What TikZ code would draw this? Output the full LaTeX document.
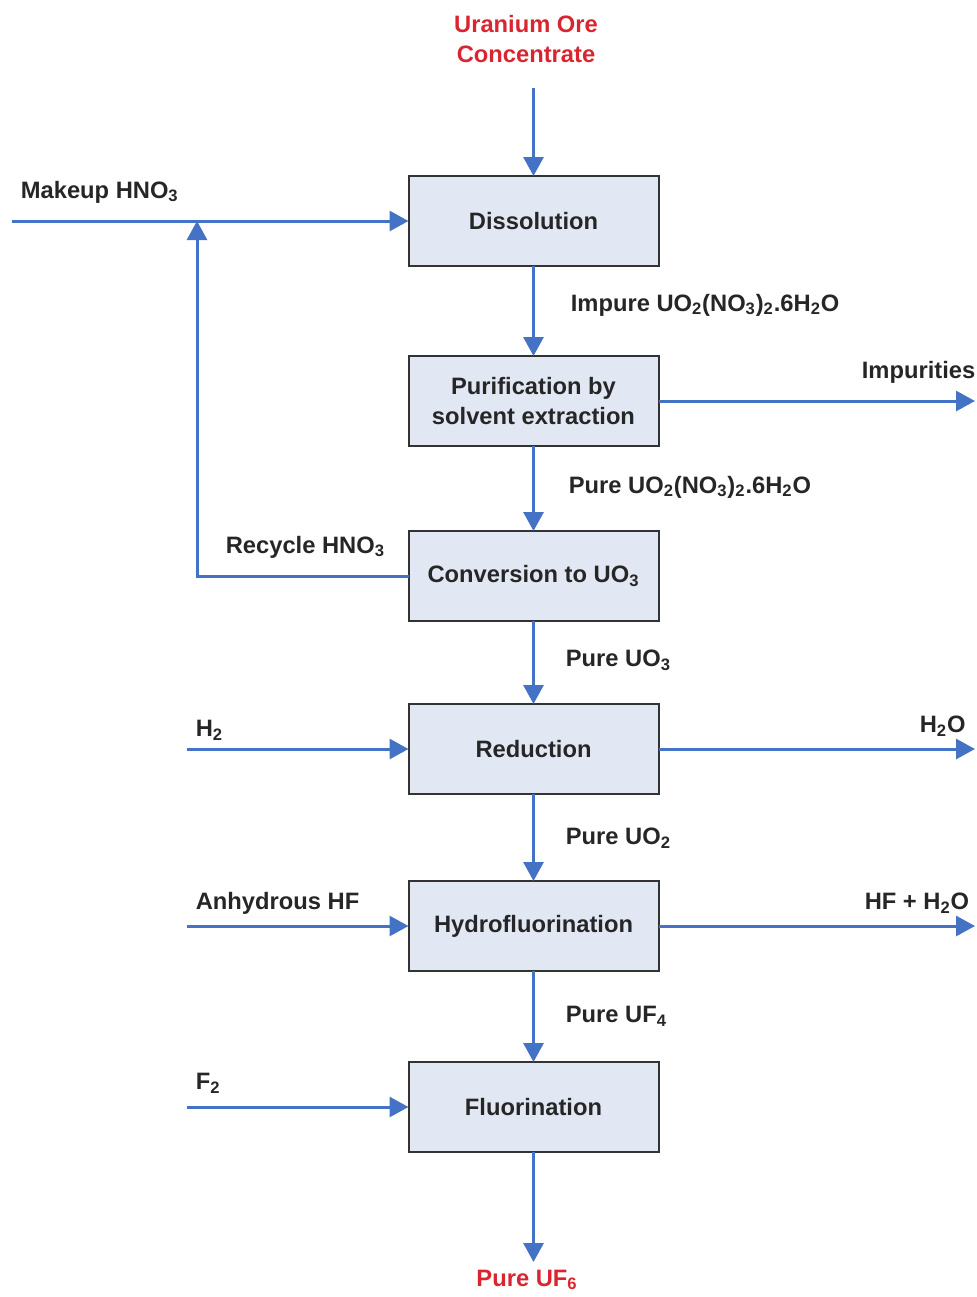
\documentclass[tikz,border=0pt]{standalone}
\usepackage{fontspec}
\setmainfont{Liberation Sans}
\usetikzlibrary{arrows.meta}
\definecolor{flowblue}{RGB}{68,114,196}
\definecolor{boxfill}{RGB}{226,232,243}
\definecolor{feedred}{RGB}{218,37,48}
\begin{document}
\begin{tikzpicture}[font=\fontsize{13.5}{17}\selectfont\bfseries, every node/.style={outer sep=0pt, text=black!85}, process/.style={draw=black!80, fill=boxfill, line width=0.4mm, minimum width=5cm, minimum height=1.8cm, align=center}, flow/.style={draw=flowblue, line width=0.6mm, -{Triangle[length=3.8mm, width=4mm]}}, line join=miter]
	\useasboundingbox (0, 0) rectangle (19.54, -25.94);

	% process units
	\node[process] (diss) at (10.67, -4.42) {Dissolution};
	\node[process] (purif) at (10.67, -8.02) {Purification by\\solvent extraction};
	\node[process] (conv) at (10.67, -11.52) {Conversion to UO\textsubscript{3}};
	\node[process] (redu) at (10.67, -14.98) {Reduction};
	\node[process] (hydro) at (10.67, -18.52) {Hydrofluorination};
	\node[process] (fluor) at (10.67, -22.14) {Fluorination};

	% feed and product
	\node[text=feedred, align=center] (ore) at (10.52, -0.78) {Uranium Ore\\Concentrate};
	\coordinate (ore end) at (10.67, -1.76);
	\node[text=feedred] (uf6) at (10.54, -25.6) {Pure UF\textsubscript{6}};
	\coordinate (uf6 end) at (10.67, -25.24);

	% stream labels
	\node[anchor=west] (imp lbl) at (11.3, -6.1) {Impure UO\textsubscript{2}(NO\textsubscript{3})\textsubscript{2}.6H\textsubscript{2}O};
	\node[anchor=west] (pure lbl) at (11.26, -9.74) {Pure UO\textsubscript{2}(NO\textsubscript{3})\textsubscript{2}.6H\textsubscript{2}O};
	\node[anchor=west] (uo3 lbl) at (11.2, -13.2) {Pure UO\textsubscript{3}};
	\node[anchor=west] (uo2 lbl) at (11.2, -16.76) {Pure UO\textsubscript{2}};
	\node[anchor=west] (uf4 lbl) at (11.2, -20.32) {Pure UF\textsubscript{4}};

	% side streams
	\node[anchor=west] (mkp lbl) at (0.3, -3.84) {Makeup HNO\textsubscript{3}};
	\coordinate (mkp) at (0.24, -4.42);
	\node[anchor=west] (rcy lbl) at (4.4, -10.94) {Recycle HNO\textsubscript{3}};
	\coordinate (rcy) at (3.94, -4.42);
	\node[anchor=west] (impt lbl) at (17.12, -7.44) {Impurities};
	\coordinate (impt) at (19.5, -8.02);
	\node[anchor=west] (h2 lbl) at (3.8, -14.6) {H\textsubscript{2}};
	\coordinate (h2) at (3.74, -14.98);
	\node[anchor=west] (h2o lbl) at (18.28, -14.52) {H\textsubscript{2}O};
	\coordinate (h2o) at (19.5, -14.98);
	\node[anchor=west] (hf lbl) at (3.8, -18.06) {Anhydrous HF};
	\coordinate (hf) at (3.74, -18.52);
	\node[anchor=east] (hfo lbl) at (19.5, -18.06) {HF + H\textsubscript{2}O};
	\coordinate (hfo) at (19.5, -18.52);
	\node[anchor=west] (f2 lbl) at (3.8, -21.66) {F\textsubscript{2}};
	\coordinate (f2) at (3.74, -22.14);

	% main line
	\draw[flow] (ore end) -- (diss);
	\draw[flow] (diss) -- (purif);
	\draw[flow] (purif) -- (conv);
	\draw[flow] (conv) -- (redu);
	\draw[flow] (redu) -- (hydro);
	\draw[flow] (hydro) -- (fluor);
	\draw[flow] (fluor) -- (uf6 end);

	% in and out
	\draw[flow] (mkp) -- (diss);
	\draw[flow] (conv.west) -| (rcy);
	\draw[flow] (purif) -- (impt);
	\draw[flow] (h2) -- (redu);
	\draw[flow] (redu) -- (h2o);
	\draw[flow] (hf) -- (hydro);
	\draw[flow] (hydro) -- (hfo);
	\draw[flow] (f2) -- (fluor);
\end{tikzpicture}
\end{document}
